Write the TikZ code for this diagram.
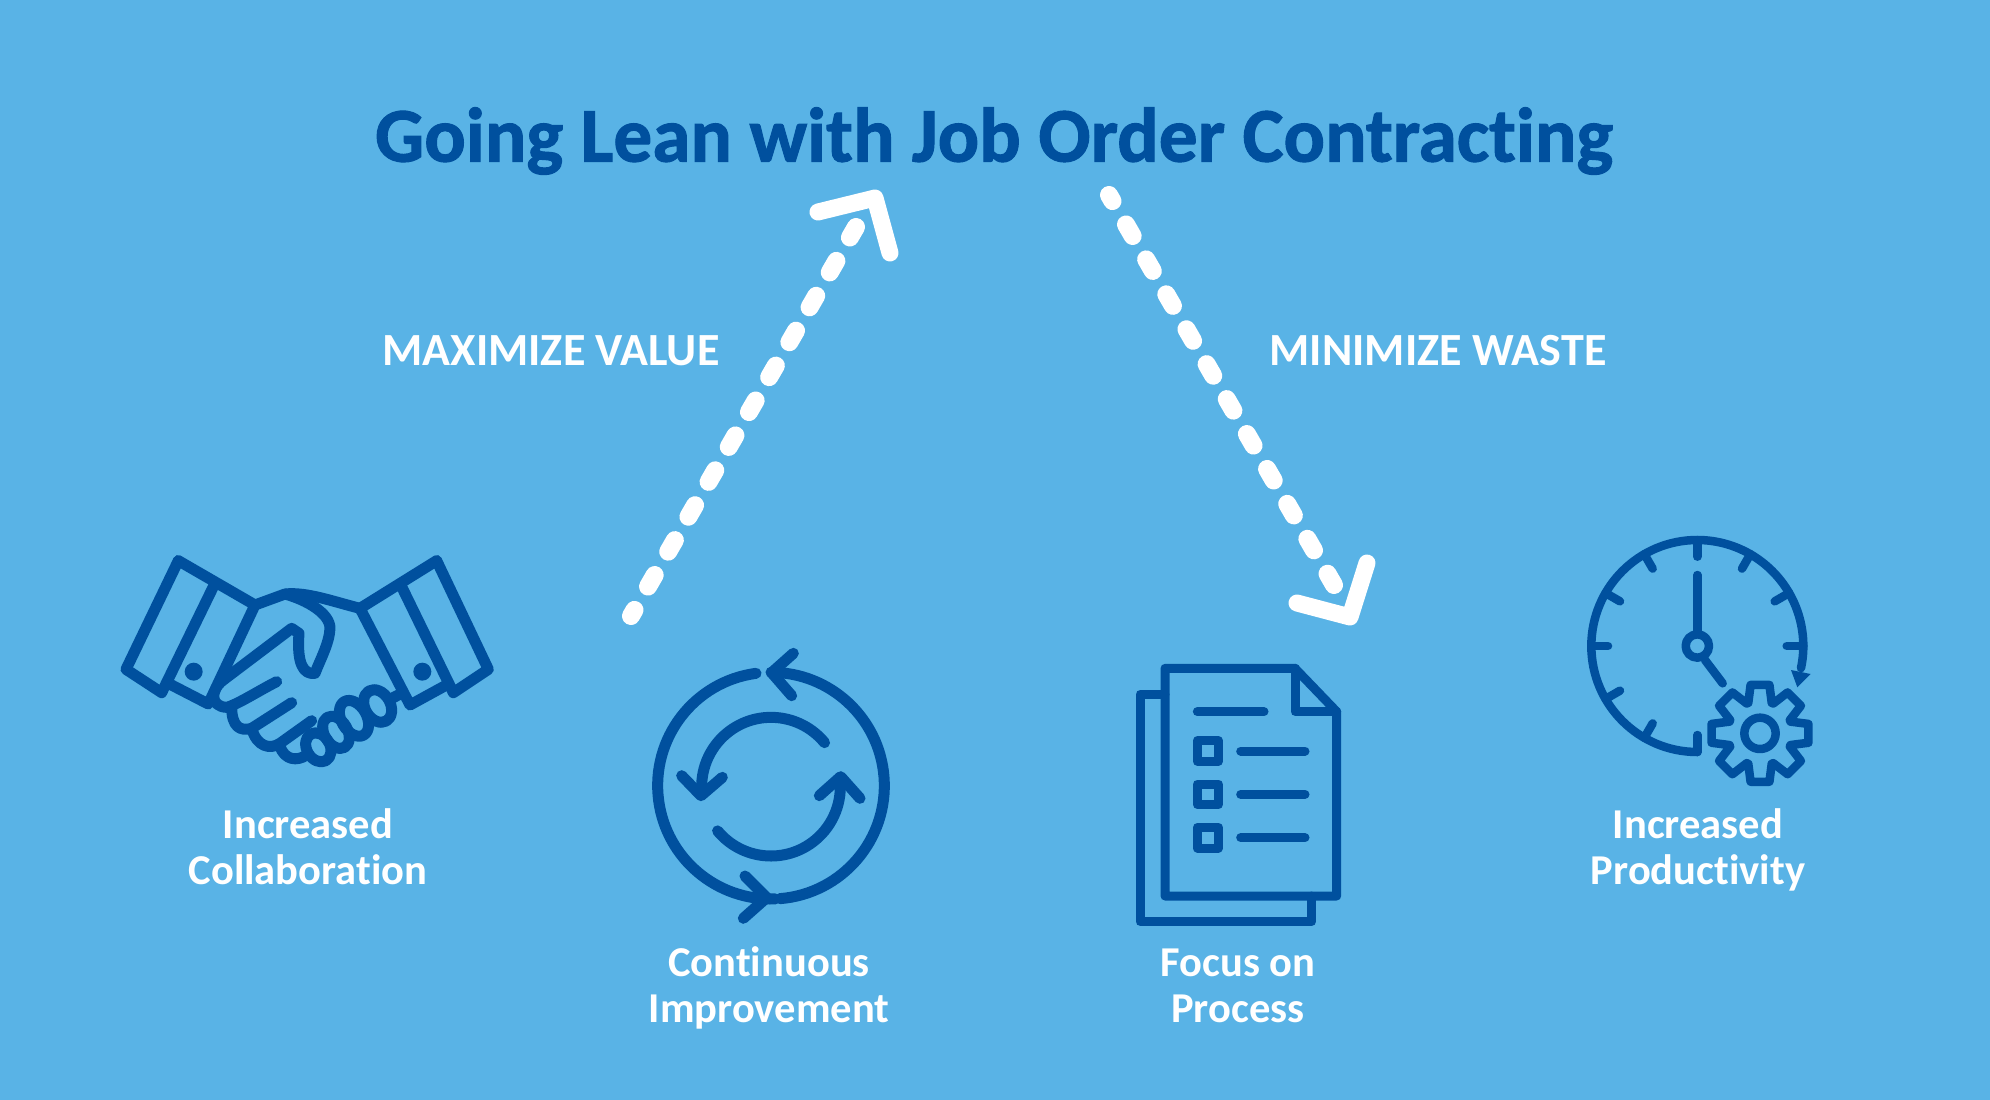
\documentclass[tikz,border=0pt]{standalone}
\usepackage{fontspec}
\setmainfont[Ligatures=CommonOff]{Carlito}
\newfontfamily\grasse[Ligatures=CommonOff,FakeBold=1.3]{Carlito Bold}
\usetikzlibrary{positioning}
\definecolor{fond}{HTML}{59B3E6}
\definecolor{bleu}{HTML}{00509E}

\begin{document}
\begin{tikzpicture}[x=0.01cm,y=-0.01cm]
\tikzset{icone/.style={draw=bleu,line width=0.11cm,line cap=round,line join=round}}
\tikzset{fleche/.style={draw=white,line width=0.18cm,line cap=round,dash pattern=on 0.133cm off 0.27cm,dash phase=0.063cm}}
\tikzset{pointe/.style={draw=white,line width=0.17cm,line cap=round,line join=round}}
\tikzset{titre/.style={text=bleu,font=\grasse\fontsize{22}{26}\selectfont}}
\tikzset{etiquette/.style={text=white,font=\bfseries\fontsize{13.1}{15}\selectfont,align=center}}
\tikzset{texte/.style={text=white,font=\bfseries\fontsize{12.1}{13}\selectfont,align=center}}
\fill[fond] (0,0) rectangle (1990,1100);
%titre et etiquettes
\node[titre] (titre) at (994,141) {Going Lean with Job Order Contracting};
\node[etiquette] (valeur) at (551,351) {MAXIMIZE VALUE};
\node[etiquette] (gaspi) at (1438,351) {MINIMIZE WASTE};
\node[texte] (collab) at (308,847) {Increased\\Collaboration};
\node[texte] (amelio) at (769,988) {Continuous\\Improvement};
\node[texte] (process) at (1238,986) {Focus on\\Process};
\node[texte] (produc) at (1698,850) {Increased\\Productivity};
%fleches
\coordinate (a1) at (631,616);
\coordinate (a2) at (856,227);
\coordinate (a3) at (818,212);
\coordinate (a4) at (875,198);
\coordinate (a5) at (890,253);
\draw[fleche] (a1) -- (a2);
\draw[pointe] (a3) -- (a4) -- (a5);
\coordinate (b1) at (1109,195);
\coordinate (b2) at (1334,585);
\coordinate (b3) at (1297,603);
\coordinate (b4) at (1350,617);
\coordinate (b5) at (1367,563);
\draw[fleche] (b1) -- (b2);
\draw[pointe] (b3) -- (b4) -- (b5);
%poignee de main
\begin{scope}[shift={(100,530)},x=0.01cm/3,y=-0.01cm/3]
\draw[icone] (235,92) -- (78,418) -- (185,488) -- (340,170);
\draw[icone] (235,92) -- (465,225) -- (325,522) -- (201,458);
\draw[icone] (1010,92) -- (1165,418) -- (1060,488) -- (905,170);
\draw[icone] (1010,92) -- (780,235) -- (930,525) -- (1045,462);
\fill[bleu] (281,425) circle (27);
\fill[bleu] (967,425) circle (27);
\draw[icone] (465,225) -- (555,192) .. controls (620,210) and (690,250) .. (690,295) .. controls (688,340) and (660,390) .. (645,430) .. controls (610,435) and (590,400) .. (597,310) -- (575,295) -- (370,450) .. controls (330,480) and (330,530) .. (380,532) .. controls (410,525) and (480,480) .. (530,455);
\draw[icone] (555,192) .. controls (620,185) and (700,215) .. (780,235);
\draw[icone] (395,530) .. controls (395,590) and (420,605) .. (455,595) -- (575,518);
\draw[icone] (455,595) .. controls (470,650) and (510,660) .. (540,640) -- (635,572);
\draw[icone] (540,650) .. controls (555,690) and (590,695) .. (620,675);
\draw[icone] (895,495) -- (870,508);
\foreach \cx/\cy/\rx/\ry in {655/652/35/46,708/607/35/52,762/565/38/58,833/528/38/52}
  \draw[icone,shift={(\cx,\cy)},rotate=30] (0,0) ellipse [x radius=\rx,y radius=\ry];
\end{scope}
%cycle
\begin{scope}[shift={(630,630)},x=0.01cm/3,y=-0.01cm/3]
\draw[icone] (423,467) ++(-97.6:340) arc[start angle=-97.6,delta angle=-174.6,radius=340];
\draw[icone] (423,467) ++(85.5:340) arc[start angle=85.5,delta angle=-175.5,radius=340];
\draw[icone] (345,738) -- (410,803) -- (340,865);
\draw[icone] (490,70) -- (425,128) -- (485,197);
\draw[icone] (423,470) ++(-39.4:208) arc[start angle=-39.4,delta angle=-147,radius=208];
\draw[icone] (423,470) ++(140.4:208) arc[start angle=140.4,delta angle=-148,radius=208];
\draw[icone] (155,437) -- (213,497) -- (277,442);
\draw[icone] (568,497) -- (632,440) -- (690,505);
\end{scope}
%document
\begin{scope}[shift={(1110,650)},x=0.01cm/3,y=-0.01cm/3]
\tikzset{icone/.append style={line width=0.09cm}}
\draw[icone] (165,55) -- (555,55) -- (680,185) -- (680,738) -- (165,738) -- cycle;
\draw[icone] (555,55) -- (555,185) -- (680,185);
\draw[icone] (165,133) -- (90,133) -- (90,815) -- (605,815) -- (605,738);
\draw[icone] (262,185) -- (462,185);
\foreach \ligne in {303,433,563}{
  \draw[icone] (262,\ligne-31) rectangle (325,\ligne+31);
  \draw[icone] (392,\ligne) -- (585,\ligne);
}
\end{scope}
%horloge
\begin{scope}[shift={(1560,520)},x=0.01cm/3,y=-0.01cm/3]
\tikzset{icone/.append style={line width=0.085cm}}
\begin{scope}[shift={(412,378)}]
\draw[icone] (90:318) arc[start angle=90,delta angle=282,radius=318];
\foreach \a in {-90,-60,-30,0,120,150,180,210,240}
  \draw[icone] (\a:318) -- (\a:268);
\draw[icone] (0,267) -- (0,318);
\draw[icone] (0,-213) -- (0,-38);
\draw[icone] (0,0) circle (35);
\draw[icone] (23,42) -- (76,112);
\end{scope}
\fill[bleu] (693,450) -- (752,462) -- (712,502) -- cycle;
\begin{scope}[shift={(600,640)}]
\draw[icone] (0,0) circle (47);
\draw[icone] (-90-21:98) \foreach \a in {-90,-45,0,45,90,135,180,225}{ -- (\a-21:98) -- (\a-11:148) -- (\a+11:148) -- (\a+21:98) } -- cycle;
\end{scope}
\end{scope}
\end{tikzpicture}
\end{document}
